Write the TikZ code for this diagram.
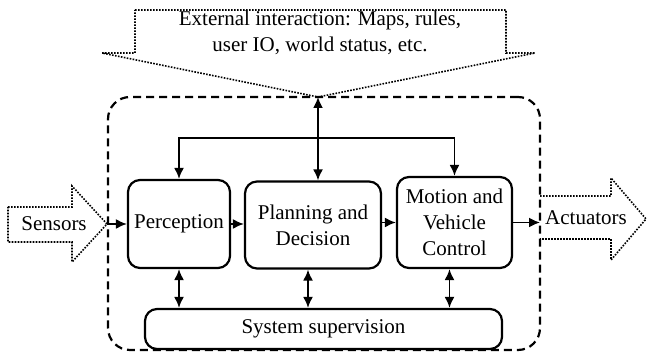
\documentclass[tikz,border=0pt]{standalone}
\usepackage{fontspec}
\setmainfont{Liberation Serif}
\usetikzlibrary{arrows.meta,calc}
\begin{document}
\begin{tikzpicture}[x=0.5pt,y=-0.5pt,
  txt/.style={font=\fontsize{10.5}{13}\selectfont, align=center, inner sep=0pt},
  blk/.style={draw, line width=1.1pt, rounded corners=6pt, txt},
  dots/.style={line width=0.8pt, dash pattern=on 0.8pt off 0.7pt},
  conn/.style={line width=0.9pt, -{Latex[length=5.5pt,width=5pt]}},
  biconn/.style={line width=0.9pt, {Latex[length=5.5pt,width=5pt]}-{Latex[length=5.5pt,width=5pt]}}]
\useasboundingbox (0,0) rectangle (647,356);
% dashed frame
\node[draw, line width=1.1pt, dash pattern=on 4pt off 2.5pt, rounded corners=11pt,
  minimum width=216pt, minimum height=126.5pt] (frame) at (324,223.5) {};
% external interaction arrow
\draw[dots] (135,10) -- (506,10) -- (506,53) -- (535,53) -- (318,97) -- (102,53) -- (135,53) -- cycle;
\node[txt] (ext) at (320,33) {External interaction: Maps, rules,\\user IO, world status, etc.};
\coordinate (exttip) at (318,97);
% sensors arrow
\draw[dots] (8,207) -- (72,207) -- (72,186) -- (107,224) -- (72,262) -- (72,242) -- (8,242) -- cycle;
\node[txt] (sens) at (54,224) {Sensors};
\coordinate (stip) at (107,224);
% actuators arrow
\draw[dots] (540,196) -- (611,196) -- (611,178) -- (646,219) -- (611,260) -- (611,239) -- (540,239);
\node[txt] (act) at (586,218) {Actuators};
% blocks
\node[blk, minimum width=51pt, minimum height=44pt] (perc) at (179,224) {Perception};
\node[blk, minimum width=68pt, minimum height=43.5pt] (plan) at (313,225) {Planning and\\Decision};
\node[blk, minimum width=57.5pt, minimum height=45.5pt] (mot) at (454.5,222.5) {Motion and\\Vehicle\\Control};
\node[blk, minimum width=178.5pt, minimum height=20pt] (sup) at (323.5,329) {System supervision};
\coordinate (atip) at (540,222.5);
% connectors
\draw[conn] (stip) -- (perc.west |- stip);
\draw[conn] (perc.east) -- (perc.east -| plan.west);
\draw[conn] (plan.east |- mot.west) -- (mot.west);
\draw[conn] (mot.east) -- (atip);
\draw[biconn] (exttip) -- (exttip |- plan.north);
\coordinate (hub) at (318,138);
\draw[conn] (hub) -| (perc.north);
\draw[conn] (hub) -| (mot.north);
\draw[biconn] (perc.south) -- (perc.south |- sup.north);
\draw[biconn] ($(plan.south)+(-5,0)$) -- ($(plan.south |- sup.north)+(-5,0)$);
\draw[biconn] ($(mot.south)+(-5,0)$) -- ($(mot.south |- sup.north)+(-5,0)$);
\end{tikzpicture}
\end{document}
